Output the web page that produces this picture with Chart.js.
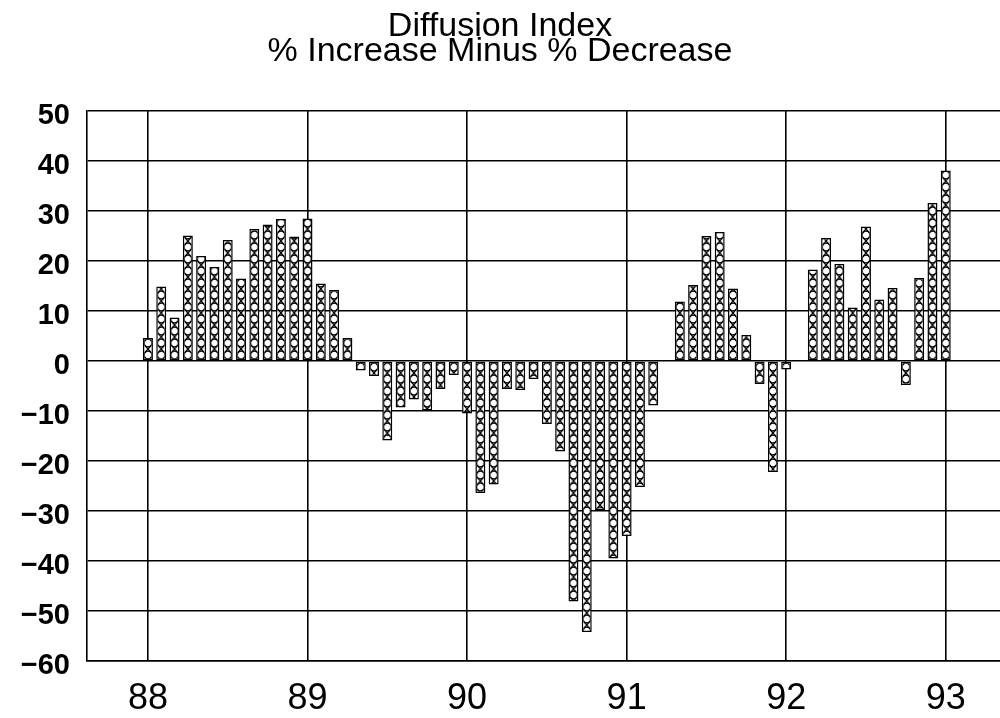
<!DOCTYPE html>
<html>
<head>
<meta charset="utf-8">
<title>Diffusion Index</title>
<script src="https://cdn.jsdelivr.net/npm/chart.js@4.4.1/dist/chart.umd.min.js"></script>
<style>
  html, body { margin: 0; padding: 0; background: #fff; }
  #wrap { width: 1000px; height: 718px; }
</style>
</head>
<body>
<div id="wrap"><canvas id="myChart" width="1000" height="718"></canvas></div>
<script>
// Años del eje x (ticks) y valores del eje y
const yearTicks = [88, 89, 90, 91, 92, 93];
const yTicks = [-60, -50, -40, -30, -20, -10, 0, 10, 20, 30, 40, 50];
const titleLines = ['Diffusion Index', '% Increase Minus % Decrease'];

// Índice de difusión mensual, ene-88 a ene-93 (null = sin barra)
const diffusion88 = [4.6, 14.9, 8.7, 25.1, 21.0, 18.8, 24.2, 16.5, 26.4, 27.3, 28.4, 24.9];
const diffusion89 = [28.5, 15.5, 14.2, 4.6, -1.9, -3.0, -15.9, -9.3, -7.7, -9.9, -5.6, -2.8];
const diffusion90 = [-10.5, -26.4, -24.7, -5.6, -5.8, -3.6, -12.6, -18.1, -48.1, -54.2, -29.8, -39.5];
const diffusion91 = [-35.0, -25.2, -8.9, null, 11.9, 15.2, 25.0, 25.8, 14.5, 5.2, -4.6, -22.2];
const diffusion92 = [-1.7, null, 18.3, 24.6, 19.4, 10.7, 26.9, 12.3, 14.6, -4.8, 16.6, 31.6];
const diffusion93 = [38.1];

const diffusion = [].concat(diffusion88, diffusion89, diffusion90, diffusion91, diffusion92, diffusion93);
// posición de cada mes en años (88 + mes/12)
const monthX = diffusion.map((v, i) => yearTicks[0] + i / 12);

const FONT = '"Liberation Sans", Arial, Helvetica, sans-serif';

// Trama de círculos y cruces de las barras
function makeTile(w, h) {
    const t = document.createElement('canvas');
    t.width = w;
    t.height = h;
    const g = t.getContext('2d');
    g.fillStyle = '#fff';
    g.fillRect(0, 0, w, h);
    g.strokeStyle = '#000';
    g.lineWidth = 1.3;
    g.beginPath();
    g.arc(w / 2, h / 2, 3.8, 0, Math.PI * 2);
    g.stroke();
    [0, h].forEach(cy => {
        g.beginPath();
        g.moveTo(1, cy - 4.5); g.lineTo(w - 1, cy + 4.5);
        g.moveTo(1, cy + 4.5); g.lineTo(w - 1, cy - 4.5);
        g.stroke();
    });
    return t;
}
const tile = makeTile(10, 12);

function barPattern(c) {
    const chart = c.chart;
    const xs = chart.scales.x, ys = chart.scales.y;
    if (!xs || !ys || !c.raw) return '#fff';
    const pat = chart.ctx.createPattern(tile, 'repeat');
    const left = xs.getPixelForValue(c.raw.x) - tile.width / 2;
    pat.setTransform(new DOMMatrix([1, 0, 0, 1, left, ys.getPixelForValue(0)]));
    return pat;
}

document.addEventListener('DOMContentLoaded', () => {
    const ctx = document.getElementById('myChart').getContext('2d');

    new Chart(ctx, {
        type: 'bar',
        data: {
            datasets: [{
                data: diffusion.map((v, i) => ({ x: monthX[i], y: v })),
                backgroundColor: barPattern,
                borderColor: '#000',
                borderWidth: 1.5,
                borderSkipped: false,
                barPercentage: 0.75,
                categoryPercentage: 1
            }]
        },
        options: {
            responsive: false,
            animation: false,
            devicePixelRatio: 1,
            layout: { padding: 0 },
            plugins: {
                legend: { display: false },
                tooltip: { enabled: false },
                title: {
                    display: true,
                    text: titleLines,
                    color: '#000',
                    font: { family: FONT, size: 34, weight: 'normal', lineHeight: '25px' },
                    padding: { top: 14, bottom: 47 }
                }
            },
            scales: {
                x: {
                    type: 'linear',
                    min: 87.618,
                    max: 93.34,
                    offset: false,
                    grid: { color: '#000', lineWidth: 1.6, drawTicks: false, offset: false },
                    border: { color: '#000', width: 1.6 },
                    ticks: {
                        color: '#000',
                        font: { family: FONT, size: 36 },
                        padding: 16,
                        maxRotation: 0,
                        autoSkip: false
                    },
                    afterBuildTicks: s => { s.ticks = yearTicks.map(v => ({ value: v })); },
                    afterFit: s => { s.height = 57; }
                },
                y: {
                    min: -60,
                    max: 50,
                    grid: { color: '#000', lineWidth: 1.6, drawTicks: false },
                    border: { color: '#000', width: 1.6 },
                    ticks: {
                        color: '#000',
                        font: { family: FONT, size: 29, weight: 'bold' },
                        padding: 17,
                        labelOffset: 5,
                        callback: v => v < 0 ? '\u2212' + Math.abs(v) : String(v)
                    },
                    afterBuildTicks: s => { s.ticks = yTicks.map(v => ({ value: v })); },
                    afterFit: s => { s.width = 87; }
                }
            }
        }
    });
});
</script>
</body>
</html>
